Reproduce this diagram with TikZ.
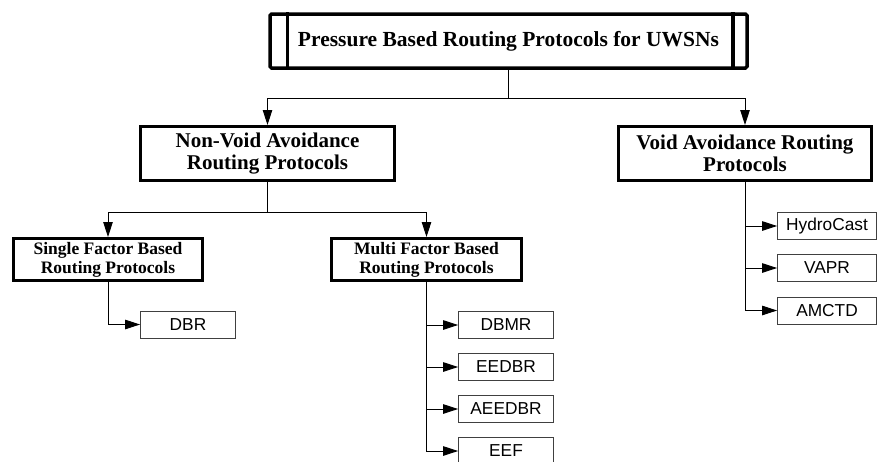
\documentclass[tikz,border=0pt]{standalone}
\usepackage{fontspec}
\setmainfont{Liberation Serif}
\newfontfamily\leaffont{Liberation Sans}
\usetikzlibrary{arrows.meta}

\begin{document}
\begin{tikzpicture}[x=1pt,y=-1pt,
    rootbox/.style={draw,line width=3.5pt,rounded corners=1.5pt,minimum width=477pt,minimum height=54pt,inner sep=0pt,font=\fontsize{21.5}{23}\selectfont\bfseries},
    classbox/.style={draw,line width=3pt,minimum height=54pt,inner sep=0pt,align=center,font=\fontsize{21}{22}\selectfont\bfseries},
    subbox/.style={draw,line width=3pt,minimum height=42pt,inner sep=0pt,align=center,font=\fontsize{17.5}{19}\selectfont\bfseries},
    leaf/.style={draw=black!75,line width=0.8pt,minimum width=95pt,minimum height=27pt,inner sep=0pt,font=\leaffont\fontsize{17.3}{19}\selectfont},
    link/.style={line width=0.9pt,-{Triangle[length=15pt,width=9.5pt]}},
    plain/.style={line width=0.9pt}]
    \useasboundingbox (0,0) rectangle (878,461);

    \node[rootbox] (root) at (508.5,41) {Pressure Based Routing Protocols for UWSNs};
    \draw[line width=3.5pt] ([xshift=19pt]root.north west) -- ([xshift=19pt]root.south west);
    \draw[line width=3.5pt] ([xshift=-16pt]root.north east) -- ([xshift=-16pt]root.south east);

    \node[classbox,minimum width=254pt] (nonvoid) at (267.5,153.5) {Non-Void Avoidance\\Routing Protocols};
    \node[classbox,minimum width=253pt] (void) at (745,153.5) {Void Avoidance Routing\\Protocols};

    \node[subbox,minimum width=189pt] (single) at (108,259.5) {Single Factor Based\\Routing Protocols};
    \node[subbox,minimum width=190pt] (multi) at (426.5,259.5) {Multi Factor Based\\Routing Protocols};

    \node[leaf] (dbr) at (188,324.5) {DBR};
    \node[leaf] (dbmr) at (506,325) {DBMR};
    \node[leaf] (eedbr) at (506,367) {EEDBR};
    \node[leaf] (aeedbr) at (506,409) {AEEDBR};
    \node[leaf] (eef) at (506,451) {EEF};
    \node[leaf,minimum width=99pt] (hydrocast) at (827,226) {HydroCast};
    \node[leaf,minimum width=99pt] (vapr) at (827,268) {VAPR};
    \node[leaf,minimum width=99pt] (amctd) at (827,310.5) {AMCTD};

    \coordinate (split) at (508.5,98);
    \draw[plain] (root.south) -- (split);
    \draw[link] (split) -| (nonvoid.north);
    \draw[link] (split) -| (void.north);

    \coordinate (fork) at (267.5,212);
    \draw[plain] (nonvoid.south) -- (fork);
    \draw[link] (fork) -| (single.north);
    \draw[link] (fork) -| (multi.north);

    \draw[link] (single.south) |- (dbr.west);
    \draw[link] (multi.south) |- (dbmr.west);
    \draw[link] (multi.south) |- (eedbr.west);
    \draw[link] (multi.south) |- (aeedbr.west);
    \draw[link] (multi.south) |- (eef.west);
    \draw[link] (void.south) |- (hydrocast.west);
    \draw[link] (void.south) |- (vapr.west);
    \draw[link] (void.south) |- (amctd.west);
\end{tikzpicture}
\end{document}
